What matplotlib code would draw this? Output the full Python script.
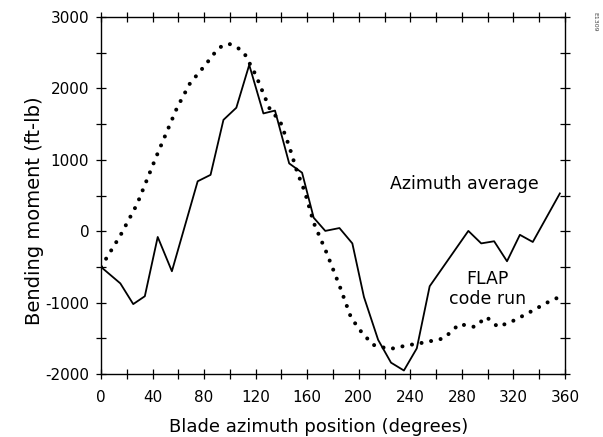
import matplotlib
matplotlib.use("Agg")
import matplotlib.pyplot as plt
from matplotlib.ticker import MultipleLocator

plt.rcParams['font.family'] = ['DejaVu Sans']
plt.rcParams['axes.unicode_minus'] = False

# Azimuth average (solid line)
avg_deg = [0, 15, 25, 34, 44, 55, 75, 85, 95, 105, 115, 126, 135, 146, 156,
           165, 174, 185, 195, 204, 215, 225, 235, 245, 255, 285, 295, 305,
           315, 325, 335, 356]
avg_val = [-500, -730, -1020, -910, -80, -560, 700, 790, 1560, 1730, 2330,
           1650, 1690, 950, 820, 190, 5, 45, -170, -920, -1520, -1840, -1950,
           -1640, -770, 5, -170, -140, -420, -50, -150, 530]

# FLAP code run (dotted line)
flap_deg = [0, 15, 28, 43, 59, 69, 81, 90, 95, 100, 106, 111, 120, 131, 139,
            146, 152, 158, 165, 175, 185, 194, 202, 211, 224, 237, 250, 266,
            278, 290, 299, 308, 321, 334, 346, 358]
flap_val = [-500, -60, 380, 1050, 1730, 2070, 2330, 2540, 2610, 2620, 2570,
            2500, 2190, 1710, 1540, 1190, 840, 560, 120, -300, -760, -1210,
            -1410, -1590, -1650, -1600, -1560, -1500, -1300, -1340, -1200,
            -1340, -1245, -1120, -1000, -900]

fig = plt.figure(figsize=(6.03, 4.37), dpi=100)
ax = fig.add_axes([0.1675, 0.144, 0.7695, 0.817])

ax.plot(avg_deg, avg_val, color='black', lw=1.3)
ax.plot(flap_deg, flap_val, color='black', lw=2.9,
        linestyle=(0, (0.01, 2.4)), dash_capstyle='round')

ax.set_xlim(0, 360)
ax.set_ylim(-2000, 3000)
ax.xaxis.set_major_locator(MultipleLocator(40))
ax.xaxis.set_minor_locator(MultipleLocator(20))
ax.yaxis.set_major_locator(MultipleLocator(1000))
ax.yaxis.set_minor_locator(MultipleLocator(500))
ax.tick_params(which='both', direction='inout', top=True, right=True,
               length=7, width=0.9, labelsize=11, pad=5)
ax.tick_params(axis='x', pad=8)
for s in ax.spines.values():
    s.set_linewidth(1.0)

ax.set_xlabel('Blade azimuth position (degrees)', fontsize=13)
ax.set_ylabel('Bending moment (ft-lb)', fontsize=14)
ax.xaxis.set_label_coords(0.469, -0.123)
ax.yaxis.set_label_coords(-0.123, 0.459)

ax.text(282, 660, 'Azimuth average', fontsize=12.5, ha='center', va='center')
ax.text(300, -810, 'FLAP\ncode run', fontsize=12.5, ha='center', va='center',
        linespacing=1.1)

fig.text(0.987, 0.95, 'E1309', fontsize=4.5, rotation=270, color='#444444',
         ha='center', va='center')

fig.savefig('out.png', dpi=100)
